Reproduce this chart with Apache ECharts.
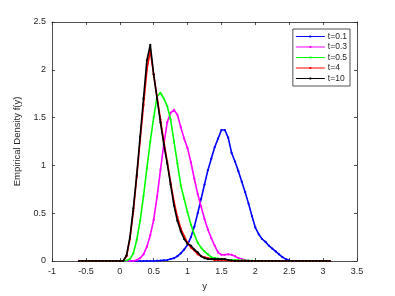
<!DOCTYPE html>
<html><head><meta charset="utf-8">
<script src="https://cdn.jsdelivr.net/npm/echarts@6/dist/echarts.min.js"></script>
<style>html,body{margin:0;padding:0;background:#fff}#c{width:395px;height:296px}</style>
</head><body><div id="c"></div>
<script>
// x grid: -0.6 to 3.1 step 0.05
const xs = [-0.6,-0.55,-0.5,-0.45,-0.4,-0.35,-0.3,-0.25,-0.2,-0.15,-0.1,-0.05,0,0.05,0.1,0.15,0.2,0.25,0.3,0.35,0.4,0.45,0.5,0.55,0.6,0.65,0.7,0.75,0.8,0.85,0.9,0.95,1.0,1.05,1.1,1.15,1.2,1.25,1.3,1.35,1.4,1.45,1.5,1.55,1.6,1.65,1.7,1.75,1.8,1.85,1.9,1.95,2.0,2.05,2.1,2.15,2.2,2.25,2.3,2.35,2.4,2.45,2.5,2.55,2.6,2.65,2.7,2.75,2.8,2.85,2.9,2.95,3.0,3.05,3.1];
const seriesNames = ['t=0.1','t=0.3','t=0.5','t=4','t=10'];
// values listed from x=-0.6
const t01 = [0,0,0,0,0,0,0,0,0,0,0,0,0,0,0,0,0,0,0,0,0,0,0,0.003,0.005,0.008,0.01,0.02,0.03,0.05,0.08,0.12,0.17,0.25,0.36,0.5,0.65,0.8,0.95,1.07,1.19,1.28,1.37,1.37,1.29,1.13,1.04,0.94,0.83,0.72,0.6,0.47,0.35,0.28,0.23,0.2,0.16,0.13,0.1,0.07,0.04,0.02,0.005,0,0,0,0,0,0,0,0,0,0,0,0];
const t03 = [0,0,0,0,0,0,0,0,0,0,0,0,0,0,0,0,0,0.01,0.03,0.07,0.15,0.27,0.43,0.67,0.95,1.22,1.45,1.55,1.58,1.53,1.4,1.28,1.18,1.03,0.86,0.7,0.57,0.44,0.33,0.24,0.16,0.09,0.065,0.065,0.07,0.065,0.05,0.03,0.02,0.01,0.005,0,0,0,0,0,0,0,0,0,0,0,0,0,0,0,0,0,0,0,0,0,0,0,0];
const t05 = [0,0,0,0,0,0,0,0,0,0,0,0,0,0,0.005,0.02,0.08,0.22,0.42,0.68,0.97,1.25,1.5,1.72,1.76,1.7,1.62,1.48,1.25,1.02,0.79,0.65,0.51,0.38,0.28,0.19,0.14,0.1,0.07,0.04,0.03,0.025,0.02,0.015,0.01,0.01,0.01,0.008,0.006,0.005,0.004,0.003,0.002,0,0,0,0,0,0,0,0,0,0,0,0,0,0,0,0,0,0,0,0,0,0];
const t4 = [0,0,0,0,0,0,0,0,0,0,0,0,0,0,0.05,0.23,0.52,0.88,1.26,1.63,2.0,2.2,1.95,1.72,1.48,1.25,1.04,0.82,0.62,0.46,0.34,0.26,0.19,0.14,0.11,0.07,0.05,0.04,0.03,0.02,0.01,0.01,0.01,0.01,0.005,0,0,0,0,0,0,0,0,0,0,0,0,0,0,0,0,0,0,0,0,0,0,0,0,0,0,0,0,0,0];
const t10 = [0,0,0,0,0,0,0,0,0,0,0,0,0,0,0.06,0.25,0.55,0.9,1.3,1.7,2.1,2.26,1.95,1.7,1.45,1.22,1.02,0.8,0.58,0.42,0.31,0.23,0.18,0.16,0.12,0.09,0.05,0.03,0.02,0.02,0.02,0.02,0.02,0.02,0.01,0.005,0,0,0,0,0,0,0,0,0,0,0,0,0,0,0,0,0,0,0,0,0,0,0,0,0,0,0,0,0];
const xTicks = [-1,-0.5,0,0.5,1,1.5,2,2.5,3,3.5];
const yTicks = [0,0.5,1,1.5,2,2.5];
const colors = ['#0000ff','#ff00ff','#00ff00','#ff0000','#000000'];
const vals = [t01,t03,t05,t4,t10];

const chart = echarts.init(document.getElementById('c'), null, {renderer:'canvas'});
const font = 'Liberation Sans, Arial, sans-serif';
function axisCommon(){ return {
  axisLine:{show:true,onZero:false,lineStyle:{color:'#262626',width:0.8}},
  axisTick:{show:true,inside:true,length:3,lineStyle:{color:'#262626',width:0.8}},
  splitLine:{show:false}
};}
const lbl = (ticks)=>({fontFamily:font,fontSize:9,color:'#262626',margin:6,
  formatter:v=>ticks.includes(+(+v).toFixed(2))?String(+(+v).toFixed(2)):''});
const option = {
  animation:false,
  backgroundColor:'#fff',
  grid:{left:52,right:38,top:22,bottom:33,containLabel:false},
  legend:{
    data:seriesNames, orient:'vertical', right:45, top:29,
    itemWidth:29, itemHeight:2, itemGap:1.5,
    icon:'path://M0,0.5L29,0.5L29,1.3L0,1.3Z M13.6,0L15.4,0L15.4,1.8L13.6,1.8Z',
    backgroundColor:'#fff', borderColor:'#262626', borderWidth:0.8,
    padding:[3,3,3,3],
    textStyle:{fontFamily:font,fontSize:8.5,color:'#262626',padding:[0,0,0,-2]}
  },
  xAxis:[
    Object.assign(axisCommon(),{type:'value',min:-1,max:3.5,interval:0.5,position:'bottom',
      name:'y',nameLocation:'middle',nameGap:20,
      nameTextStyle:{fontFamily:font,fontSize:9.5,color:'#262626'},
      axisLabel:lbl(xTicks)}),
    Object.assign(axisCommon(),{type:'value',min:-1,max:3.5,interval:0.5,position:'top',axisLabel:{show:false}})
  ],
  yAxis:[
    Object.assign(axisCommon(),{type:'value',min:0,max:2.5,interval:0.5,position:'left',
      name:'Empirical Density f(y)',nameLocation:'middle',nameGap:22,nameRotate:90,
      nameTextStyle:{fontFamily:font,fontSize:9.5,color:'#262626'},
      axisLabel:lbl(yTicks)}),
    Object.assign(axisCommon(),{type:'value',min:0,max:2.5,interval:0.5,position:'right',axisLabel:{show:false}})
  ],
  series: seriesNames.map((n,i)=>({
    name:n, type:'line', xAxisIndex:0, yAxisIndex:0,
    data: xs.map((x,j)=>[x, vals[i][j]]),
    symbol:'circle', symbolSize:2.2, showAllSymbol:true,
    lineStyle:{width:1.6,color:colors[i]},
    itemStyle:{color:colors[i]},
    z: 2+i
  }))
};
chart.setOption(option);
</script></body></html>
